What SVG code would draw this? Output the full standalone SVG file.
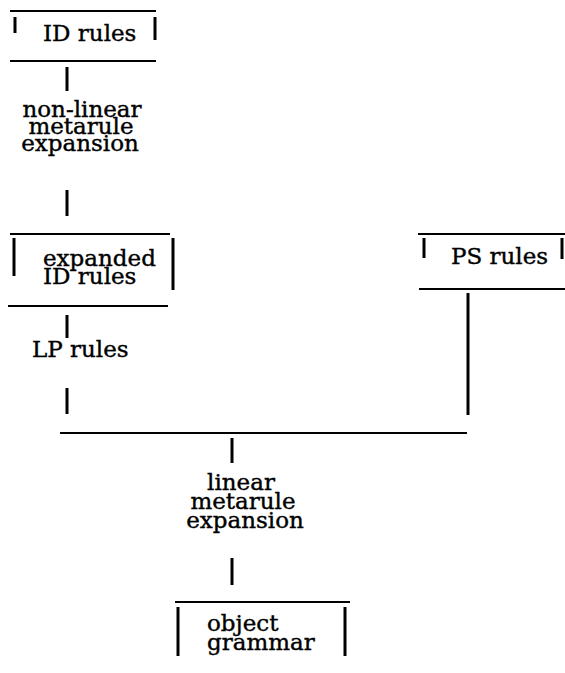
<svg xmlns="http://www.w3.org/2000/svg" width="565" height="673" viewBox="0 0 565 673">
<style>
  .t { font-family: "DejaVu Serif", "Liberation Serif", serif; font-size: 23px; fill: #000; stroke: #000; stroke-width: 0.4; }
  .m { text-anchor: middle; }
  .h { stroke: #000; stroke-width: 2; fill: none; }
  .v { stroke: #000; stroke-width: 3; fill: none; }
</style>
<rect width="565" height="673" fill="#fff"/>
<g id="id-rules">
  <line class="h" x1="10" y1="11" x2="156" y2="11"/>
  <line class="v" x1="15" y1="17" x2="15" y2="33"/>
  <line class="v" x1="155" y1="17" x2="155" y2="40"/>
  <text class="t" x="43" y="41">ID rules</text>
  <line class="h" x1="10" y1="61" x2="156" y2="61"/>
</g>
<g id="non-linear-expansion">
  <text class="t m" x="82" y="117"><tspan x="82">non-linear</tspan><tspan x="81" dy="17">metarule</tspan><tspan x="80" dy="17">expansion</tspan></text>
</g>
<g id="expanded-id-rules">
  <line class="h" x1="10" y1="234" x2="170" y2="234"/>
  <line class="v" x1="14" y1="238" x2="14" y2="276"/>
  <line class="v" x1="173" y1="238" x2="173" y2="290"/>
  <text class="t" x="43" y="266"><tspan x="43">expanded</tspan><tspan x="43" dy="18">ID rules</tspan></text>
  <line class="h" x1="8" y1="306" x2="168" y2="306"/>
</g>
<g id="lp-rules">
  <text class="t" x="32" y="357">LP rules</text>
</g>
<g id="ps-rules">
  <line class="h" x1="418" y1="234" x2="565" y2="234"/>
  <line class="v" x1="424" y1="238" x2="424" y2="258"/>
  <line class="v" x1="562" y1="238" x2="562" y2="259"/>
  <text class="t" x="451" y="264">PS rules</text>
  <line class="h" x1="419" y1="289" x2="565" y2="289"/>
</g>
<g id="linear-expansion">
  <text class="t m" x="241" y="490"><tspan x="241">linear</tspan><tspan x="243" dy="19">metarule</tspan><tspan x="245" dy="19">expansion</tspan></text>
</g>
<g id="object-grammar">
  <line class="h" x1="175" y1="602" x2="350" y2="602"/>
  <line class="v" x1="178" y1="607" x2="178" y2="656"/>
  <line class="v" x1="345" y1="607" x2="345" y2="656"/>
  <text class="t" x="207" y="631"><tspan x="207">object</tspan><tspan x="207" dy="19">grammar</tspan></text>
</g>
<g id="connectors">
  <line class="v" x1="67" y1="67" x2="67" y2="91"/>
  <line class="v" x1="67" y1="190" x2="67" y2="216"/>
  <line class="v" x1="67" y1="315" x2="67" y2="338"/>
  <line class="v" x1="67" y1="388" x2="67" y2="414"/>
  <line class="v" x1="468" y1="293" x2="468" y2="415"/>
  <line class="h" x1="60" y1="433" x2="467" y2="433"/>
  <line class="v" x1="232" y1="438" x2="232" y2="463"/>
  <line class="v" x1="232" y1="558" x2="232" y2="585"/>
</g>
</svg>
